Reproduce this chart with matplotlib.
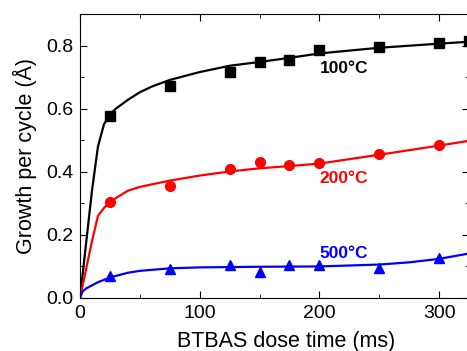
import matplotlib
matplotlib.use("Agg")
import matplotlib.pyplot as plt
from matplotlib.ticker import MultipleLocator, FormatStrFormatter

plt.rcParams['font.family'] = ['Liberation Sans', 'DejaVu Sans']

# measured points
dose = [25, 75, 125, 150, 175, 200, 250, 300, 325]
gpc_100 = [0.578, 0.672, 0.716, 0.749, 0.755, 0.786, 0.794, 0.807, 0.816]
dose_b = [25, 75, 125, 150, 175, 200, 250, 300]
gpc_200 = [0.304, 0.354, 0.408, 0.431, 0.420, 0.429, 0.455, 0.484]
gpc_500 = [0.069, 0.092, 0.103, 0.082, 0.106, 0.104, 0.095, 0.127]

# fitted curves
fit_x_100 = [0, 5, 10, 15, 20, 25, 30, 40, 50, 60, 75, 100, 125, 150, 175, 200, 250, 300, 325]
fit_y_100 = [0, 0.17, 0.34, 0.48, 0.55, 0.582, 0.600, 0.628, 0.652, 0.670, 0.691, 0.716, 0.736, 0.748, 0.761, 0.775, 0.793, 0.806, 0.812]
fit_x_200 = [0, 5, 10, 15, 20, 25, 40, 50, 75, 100, 125, 150, 175, 200, 250, 300, 325]
fit_y_200 = [0, 0.09, 0.18, 0.26, 0.285, 0.305, 0.34, 0.352, 0.372, 0.388, 0.401, 0.411, 0.418, 0.426, 0.454, 0.483, 0.498]
fit_x_500 = [0, 2, 5, 10, 15, 25, 40, 50, 75, 100, 150, 200, 250, 275, 300, 325]
fit_y_500 = [0, 0.02, 0.03, 0.04, 0.05, 0.065, 0.08, 0.086, 0.094, 0.097, 0.099, 0.100, 0.106, 0.113, 0.124, 0.141]

fig = plt.figure(figsize=(4.67, 3.51), dpi=100)
ax = fig.add_axes([80/467, 53/351, 389/467, 284/351])

ax.plot(fit_x_100, fit_y_100, color='black', lw=1.6)
ax.plot(fit_x_200, fit_y_200, color='red', lw=1.6)
ax.plot(fit_x_500, fit_y_500, color='blue', lw=1.6)
ax.plot(dose, gpc_100, 's', color='black', ms=6.5)
ax.plot(dose_b, gpc_200, 'o', color='red', ms=7)
ax.plot(dose_b, gpc_500, '^', color='blue', ms=7)

ax.text(200, 0.727, '100°C', color='black', fontsize=12.5, fontweight='bold', va='center')
ax.text(200, 0.379, '200°C', color='red', fontsize=12.5, fontweight='bold', va='center')
ax.text(200, 0.142, '500°C', color='blue', fontsize=12.5, fontweight='bold', va='center')

ax.set_xlim(0, 325)
ax.set_ylim(0, 0.9)
ax.xaxis.set_major_locator(MultipleLocator(100))
ax.xaxis.set_minor_locator(MultipleLocator(50))
ax.yaxis.set_major_locator(MultipleLocator(0.2))
ax.yaxis.set_minor_locator(MultipleLocator(0.1))
ax.tick_params(which='both', direction='in', top=True, right=True, labelsize=14)
ax.tick_params(which='major', length=5, pad=5)
ax.tick_params(which='minor', length=3)
ax.yaxis.set_major_formatter(FormatStrFormatter('%.1f'))
ax.set_xlabel('BTBAS dose time (ms)', fontsize=15.5)
ax.xaxis.set_label_coords(0.53, -0.115)
ax.set_ylabel('Growth per cycle (Å)', fontsize=15.5, labelpad=6)

fig.savefig('out.png', dpi=100)
